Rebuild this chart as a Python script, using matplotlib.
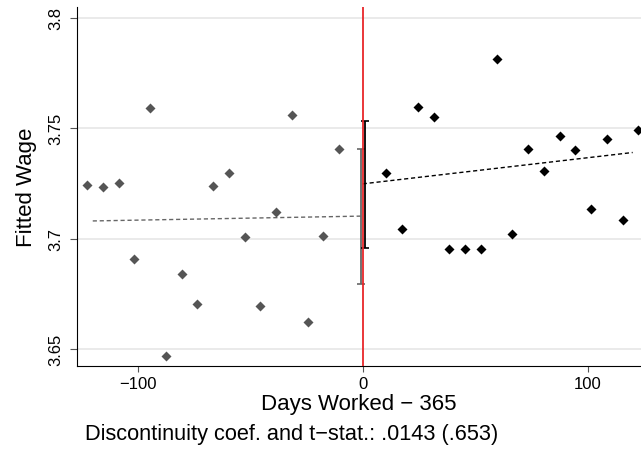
import numpy as np
import matplotlib
matplotlib.use('Agg')
import matplotlib.pyplot as plt

# 数据
left_days = [-122.5, -115.5, -108.5, -101.5, -94.5, -87.5, -80.5, -73.5, -66.5,
             -59.5, -52.5, -45.5, -38.5, -31.5, -24.5, -17.5, -10.5]
left_wage = [3.7245, 3.7234, 3.7252, 3.6909, 3.7591, 3.6470, 3.6841, 3.6704, 3.7238,
             3.7299, 3.7007, 3.6693, 3.7119, 3.7558, 3.6624, 3.7013, 3.7404]
right_days = [10.5, 17.5, 24.5, 31.5, 38.5, 45.5, 52.5, 59.5, 66.5,
              73.5, 80.5, 87.5, 94.5, 101.5, 108.5, 115.5, 122.5]
right_wage = [3.7299, 3.7045, 3.7595, 3.7551, 3.6955, 3.6955, 3.6955, 3.7813, 3.7021,
              3.7405, 3.7305, 3.7465, 3.7400, 3.7133, 3.7453, 3.7083, 3.7491]

left_fit_x = [-120, 0]
left_fit_y = [3.7080, 3.7102]
right_fit_x = [0, 120]
right_fit_y = [3.7248, 3.7390]

# 断点处的置信区间
left_ci = (3.7101, 0.0305)
right_ci = (3.7244, 0.0288)

x_ticks = [-100, 0, 100]
y_ticks = [3.65, 3.7, 3.75, 3.8]
y_ticklabels = ['3.65', '3.7', '3.75', '3.8']
note = 'Discontinuity coef. and t\u2212stat.: .0143 (.653)'

plt.rcParams['font.family'] = ['Liberation Sans', 'DejaVu Sans']

fig = plt.figure(figsize=(6.41, 4.64), dpi=100)
ax = fig.add_axes([77 / 641, 1 - 367 / 464, 1 - 77 / 641, (367 - 8) / 464])

# 网格线
for y in y_ticks:
    ax.axhline(y, color='#e6e6e6', lw=1.2, zorder=0)

ax.plot(left_days, left_wage, 'D', color='#555555', ms=5.5, mec='none', zorder=3)
ax.plot(right_days, right_wage, 'D', color='black', ms=5.5, mec='none', zorder=3)

ax.plot(left_fit_x, left_fit_y, '--', color='#666666', lw=1, dashes=(3, 2), zorder=2)
ax.plot(right_fit_x, right_fit_y, '--', color='black', lw=1, dashes=(3, 2), zorder=2)

ax.errorbar([-0.8], [left_ci[0]], yerr=[left_ci[1]], color='#666666', lw=1.3,
            capsize=3, capthick=1.2, zorder=4)
ax.errorbar([0.8], [right_ci[0]], yerr=[right_ci[1]], color='black', lw=1.3,
            capsize=3, capthick=1.2, zorder=4)

ax.axvline(0, color='#e8262a', lw=1.3, zorder=5)

ax.set_xlim(-127, 123.7)
ax.set_ylim(3.6423, 3.8049)
ax.set_xticks(x_ticks)
ax.set_xticklabels(['\u2212100', '0', '100'])
ax.set_yticks(y_ticks)
ax.set_yticklabels(y_ticklabels, rotation=90, va='center')

ax.tick_params(axis='both', direction='out', width=0.8, color='#555555', labelsize=12)
ax.tick_params(axis='x', length=4, pad=3)
ax.tick_params(axis='y', length=5, pad=5)
ax.spines['top'].set_visible(False)
ax.spines['right'].set_visible(False)
ax.spines['left'].set_color('black')
ax.spines['bottom'].set_color('black')

ax.set_xlabel('Days Worked \u2212 365', fontsize=16, labelpad=2)
ax.set_ylabel('Fitted Wage', fontsize=16, labelpad=8)

fig.text(85 / 641, 1 - 440 / 464, note, fontsize=15.7, ha='left', va='baseline')

fig.savefig('out.png', dpi=100)
